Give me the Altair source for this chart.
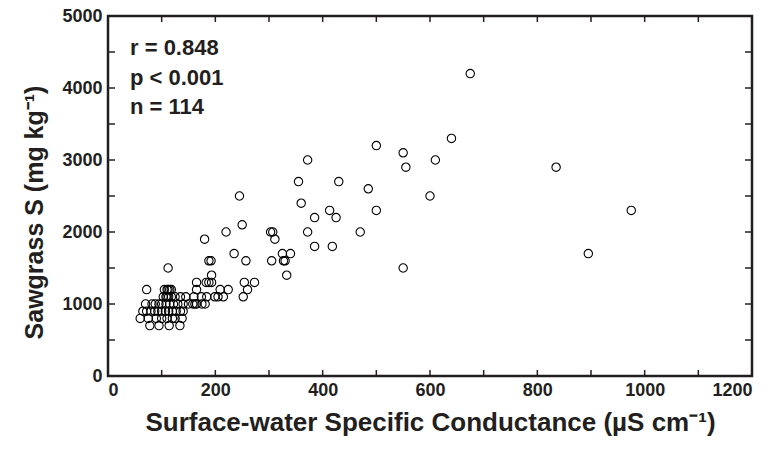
import altair as alt
import pandas as pd

# Surface-water specific conductance (uS/cm) and sawgrass S (mg/kg)
cond = [
    675, 640, 610, 550, 555, 835, 600, 975, 895, 550,
    500, 485, 500, 372, 355, 430, 360, 413, 385, 425,
    372, 470, 385, 418, 340, 325, 327, 330, 333, 245,
    250, 220, 180, 235, 257, 303, 307, 311, 188, 192,
    193, 305, 254, 273, 260, 252, 209, 224, 165, 183,
    188, 193, 174, 184, 199, 205, 215, 165, 162, 181,
    112,
    72, 105, 110, 115, 118, 112,
    103, 108, 113, 118, 125, 135, 145, 110, 160,
    70, 82, 95, 100, 108, 115, 122, 130, 140, 150, 158, 88, 165, 175,
    65, 72, 80, 87, 93, 100, 107, 113, 120, 127, 135, 140,
    60, 75, 90, 110, 125, 138, 100, 120,
    78, 95, 114, 134,
]
sulfur = [
    4200, 3300, 3000, 3100, 2900, 2900, 2500, 2300, 1700, 1500,
    3200, 2600, 2300, 3000, 2700, 2700, 2400, 2300, 2200, 2200,
    2000, 2000, 1800, 1800, 1700, 1700, 1600, 1600, 1400, 2500,
    2100, 2000, 1900, 1700, 1600, 2000, 2000, 1900, 1600, 1600,
    1400, 1600, 1300, 1300, 1200, 1100, 1200, 1200, 1300, 1300,
    1300, 1300, 1100, 1100, 1100, 1100, 1100, 1200, 1000, 1000,
    1500,
    1200, 1200, 1200, 1200, 1200, 1200,
    1100, 1100, 1100, 1100, 1100, 1100, 1100, 1100, 1100,
    1000, 1000, 1000, 1000, 1000, 1000, 1000, 1000, 1000, 1000, 1000, 1000, 1000, 1000,
    900, 900, 900, 900, 900, 900, 900, 900, 900, 900, 900, 900,
    800, 800, 800, 800, 800, 800, 800, 800,
    700, 700, 700, 700,
]

x_ticks = list(range(0, 1201, 100))
x_labels = list(range(0, 1201, 200))
y_ticks = list(range(0, 5001, 500))
y_labels = list(range(0, 5001, 1000))
stats = ["r = 0.848", "p < 0.001", "n = 114"]
x_title = "Surface-water Specific Conductance (µS cm⁻¹)"
y_title = "Sawgrass S (mg kg⁻¹)"

FONT = "Liberation Sans"
INK = "#231f20"
W, H = 644, 360

df = pd.DataFrame({"cond": cond, "S": sulfur})
xs = alt.Scale(domain=[0, 1200], nice=False, zero=False)
ys = alt.Scale(domain=[0, 5000], nice=False, zero=False)

x_axis = alt.Axis(values=x_labels, format="d", ticks=False, domain=False, grid=False,
                  orient="bottom",
                  labelFont=FONT, labelFontSize=18, labelFontWeight="bold",
                  labelColor=INK, labelPadding=5,
                  titleFont=FONT, titleFontSize=26, titleFontWeight="bold",
                  titleColor=INK, titlePadding=10)
y_axis = alt.Axis(values=y_labels, format="d", ticks=False, domain=False, grid=False,
                  orient="left",
                  labelFont=FONT, labelFontSize=18, labelFontWeight="bold",
                  labelColor=INK, labelPadding=6,
                  titleFont=FONT, titleFontSize=25, titleFontWeight="bold",
                  titleColor=INK, titlePadding=14, titleY=196)

points = alt.Chart(df).mark_point(
    shape="circle", filled=False, color="black", size=70, strokeWidth=1.1, opacity=1
).encode(
    x=alt.X("cond:Q", scale=xs, title=x_title, axis=x_axis),
    y=alt.Y("S:Q", scale=ys, title=y_title, axis=y_axis),
)

xt = pd.DataFrame({"v": x_ticks})
yt = pd.DataFrame({"v": y_ticks})

xb = alt.Chart(xt).mark_rule(color=INK, strokeWidth=1.5).encode(
    x=alt.X("v:Q", scale=xs, title=x_title, axis=x_axis), y=alt.value(H), y2=alt.value(H - 6))
xtop = alt.Chart(xt).mark_rule(color=INK, strokeWidth=1.5).encode(
    x=alt.X("v:Q", scale=xs, title=x_title, axis=x_axis), y=alt.value(0), y2=alt.value(6))
yl = alt.Chart(yt).mark_rule(color=INK, strokeWidth=1.5).encode(
    y=alt.Y("v:Q", scale=ys, title=y_title, axis=y_axis), x=alt.value(0), x2=alt.value(7))
yr = alt.Chart(yt).mark_rule(color=INK, strokeWidth=1.5).encode(
    y=alt.Y("v:Q", scale=ys, title=y_title, axis=y_axis), x=alt.value(W), x2=alt.value(W - 7))

text_layers = []
for s, yy in zip(stats, [32, 61.5, 91]):
    text_layers.append(
        alt.Chart(pd.DataFrame({"t": [s]})).mark_text(
            align="left", baseline="middle", font=FONT, fontSize=22, fontWeight="bold",
            color=INK
        ).encode(text="t:N", x=alt.value(22), y=alt.value(yy))
    )

chart = alt.layer(points, xb, xtop, yl, yr, *text_layers).properties(
    width=W, height=H,
    autosize=alt.AutoSizeParams(type="none"),
    padding={"left": 100, "top": 8, "right": 15, "bottom": 66},
).configure_view(stroke=INK, strokeWidth=2.5)

chart.save("out.html", embed_options={"renderer": "svg", "actions": False})
